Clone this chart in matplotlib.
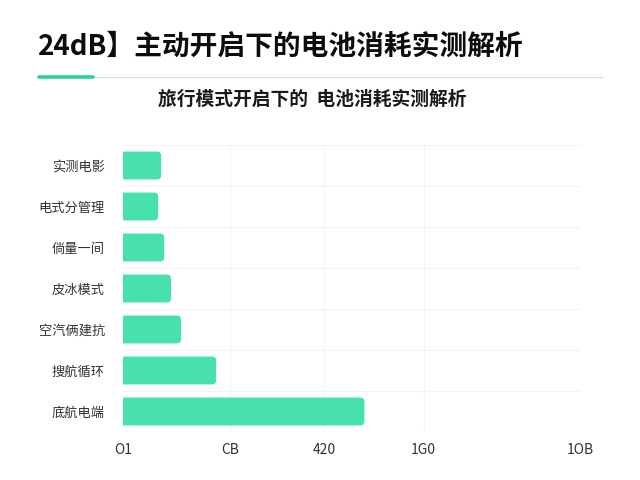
import matplotlib
matplotlib.use("Agg")
import matplotlib.pyplot as plt
from matplotlib.patches import FancyBboxPatch
from matplotlib.lines import Line2D

plt.rcParams['font.family'] = ['Noto Sans CJK SC', 'DejaVu Sans']

# data
categories = ["实测电影", "电式分管理", "倘量一间", "皮冰模式", "空汽俩建抗", "搜航循环", "底航电端"]
values = [12.7, 11.7, 13.7, 16.0, 19.3, 31.0, 80.3]
tick_pos = [0, 35.5, 67, 100, 152]
tick_labels = ["O1", "CB", "420", "1G0", "1OB"]

title = "24dB】主动开启下的电池消耗实测解析"
subtitle = "旅行模式开启下的  电池消耗实测解析"

bar_color = "#48E0AB"

fig = plt.figure(figsize=(6.4, 4.8), dpi=100)
fig.patch.set_facecolor("white")

fig.text(38 / 640, 1 - 47 / 480, title, fontsize=20, fontweight="black",
         color="#0d0d0d", ha="left", va="center")
fig.add_artist(Line2D([93 / 640, 602 / 640], [1 - 77 / 480] * 2,
                      color="#dddddd", lw=1.0))
fig.add_artist(Line2D([39 / 640, 93 / 640], [1 - 77 / 480] * 2,
                      color="#2CCF9A", lw=2.6, solid_capstyle="round"))
fig.text(312 / 640, 1 - 99 / 480, subtitle, fontsize=13.5, fontweight="bold",
         color="#1a1a1a", ha="center", va="center")

ax = fig.add_axes([123 / 640, 1 - 432 / 480, 457 / 640, 287 / 480])
n = len(categories)
ax.set_xlim(0, tick_pos[-1])
ax.set_ylim(n - 0.5, -0.5)

# rounded bars, left end hidden behind the axis edge
bh = 0.68
rx = 1.4
aspect = 0.1 / rx
for i, v in enumerate(values):
    p = FancyBboxPatch((-3, i - bh / 2), v + 3, bh,
                       boxstyle="round,pad=0,rounding_size=%g" % rx,
                       mutation_aspect=aspect, facecolor=bar_color,
                       edgecolor="none", zorder=3)
    ax.add_patch(p)

# light grid
for k in range(n + 1):
    ax.axhline(k - 0.5, color="#f3f3f3", lw=0.8, zorder=1)
for t in tick_pos[1:-1]:
    ax.axvline(t, color="#f3f3f3", lw=0.8, zorder=1)

ax.set_yticks(range(n))
ax.set_yticklabels(categories, fontsize=9.5, color="#333333")
ax.set_xticks(tick_pos)
ax.set_xticklabels(tick_labels, fontsize=10, color="#333333")
ax.tick_params(axis="y", length=0, pad=13)
ax.tick_params(axis="x", length=0, pad=8)
for s in ax.spines.values():
    s.set_visible(False)

fig.savefig("out.png", dpi=100, facecolor="white")
